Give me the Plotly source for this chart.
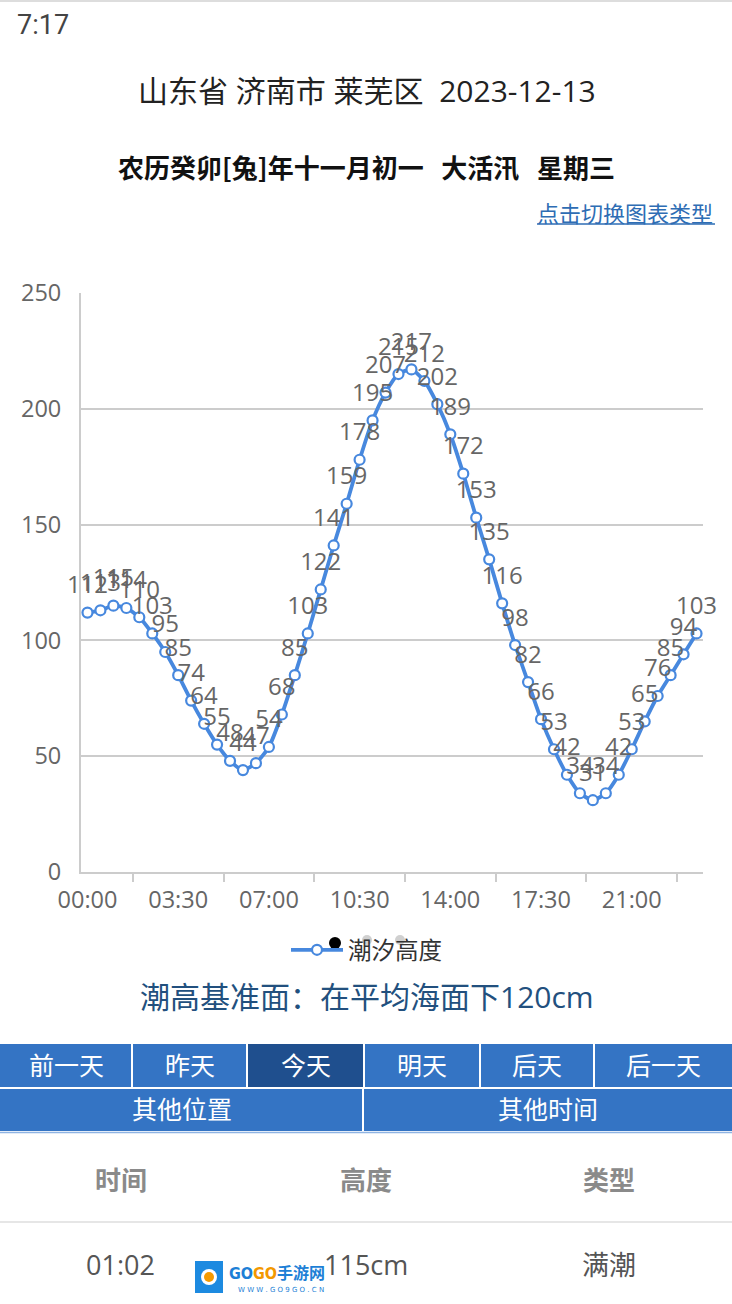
import plotly.graph_objects as go

W, H = 732, 1304

# ---------------- data ----------------
times = ["00:00", "00:30", "01:00", "01:30", "02:00", "02:30", "03:00", "03:30",
         "04:00", "04:30", "05:00", "05:30", "06:00", "06:30", "07:00", "07:30",
         "08:00", "08:30", "09:00", "09:30", "10:00", "10:30", "11:00", "11:30",
         "12:00", "12:30", "13:00", "13:30", "14:00", "14:30", "15:00", "15:30",
         "16:00", "16:30", "17:00", "17:30", "18:00", "18:30", "19:00", "19:30",
         "20:00", "20:30", "21:00", "21:30", "22:00", "22:30", "23:00", "23:30"]
heights = [112, 113, 115, 114, 110, 103, 95, 85, 74, 64, 55, 48, 44, 47, 54, 68,
           85, 103, 122, 141, 159, 178, 195, 207, 215, 217, 212, 202, 189, 172, 153, 135,
           116, 98, 82, 66, 53, 42, 34, 31, 34, 42, 53, 65, 76, 85, 94, 103]
tick_labels = ["00:00", "03:30", "07:00", "10:30", "14:00", "17:30", "21:00"]
y_ticks = [0, 50, 100, 150, 200, 250]
series_name = "潮汐高度"

title_text = "山东省 济南市 莱芜区&nbsp;&nbsp;2023-12-13"
subtitle_text = "农历癸卯[兔]年十一月初一&nbsp;&nbsp;&nbsp;大活汛&nbsp;&nbsp;&nbsp;星期三"
link_text = "点击切换图表类型"
datum_text = "潮高基准面：在平均海面下120cm"
buttons_row1 = ["前一天", "昨天", "今天", "明天", "后天", "后一天"]
buttons_row2 = ["其他位置", "其他时间"]
table_header = ["时间", "高度", "类型"]
table_row = ["01:02", "115cm", "满潮"]


def px(x):
    return x / W


def py(y):
    return 1 - y / H


FONT = "Open Sans, Noto Sans CJK SC, sans-serif"
CJK = "Noto Sans CJK SC, Open Sans, sans-serif"
BLUE = "#4788de"

x_idx = list(range(len(times)))
tick_idx = [times.index(t) for t in tick_labels]

fig = go.Figure()
fig.add_trace(go.Scatter(
    x=x_idx, y=heights, name=series_name,
    mode="lines+markers",
    line=dict(color=BLUE, width=3.8, shape="spline", smoothing=0.6),
    marker=dict(symbol="circle", size=10, color="white",
                line=dict(color=BLUE, width=2.2)),
    cliponaxis=False,
    hoverinfo="skip",
))
# value labels (placed above each point; invisible marker sets the gap)
fig.add_trace(go.Scatter(
    x=x_idx, y=heights, name=series_name, showlegend=False,
    mode="markers+text",
    text=[str(v) for v in heights],
    textposition="top center",
    textfont=dict(family=FONT, size=24, color="#666666"),
    marker=dict(size=20, color="rgba(0,0,0,0)"),
    cliponaxis=False,
    hoverinfo="skip",
))

shapes = []
annotations = []


def note(text, x, y, size, color, family=FONT, xanchor="center", weight="normal"):
    annotations.append(dict(text=text, x=px(x), y=py(y), xref="paper", yref="paper",
                            xanchor=xanchor, yanchor="middle", showarrow=False,
                            font=dict(family=family, size=size, color=color, weight=weight)))


def circle(cx, cy, r, color):
    return dict(type="circle", xref="paper", yref="paper",
                x0=px(cx - r), x1=px(cx + r), y0=py(cy + r), y1=py(cy - r),
                fillcolor=color, line=dict(width=0))


def rect(x0, x1, y0, y1, color):
    return dict(type="rect", xref="paper", yref="paper",
                x0=px(x0), x1=px(x1), y0=py(y1), y1=py(y0),
                fillcolor=color, line=dict(width=0))


def hline(x0, x1, y, color, width):
    return dict(type="line", xref="paper", yref="paper", x0=px(x0), x1=px(x1),
                y0=py(y), y1=py(y), line=dict(color=color, width=width))


# top border line
shapes.append(hline(0, W, 1, "#dddddd", 2))

# status bar
note("7:17", 15, 25, 27, "#444444", family="Roboto, sans-serif", xanchor="left")
# titles
note(title_text, 367, 91, 30, "#222222")
note(subtitle_text, 366, 166, 26, "#111111", family=CJK, weight="bold")
# link
note(link_text, 715, 212, 22, "#2e6db4", family=CJK, xanchor="right")
shapes.append(hline(537, 715, 224, "#2e6db4", 1.5))

# legend artifacts (touch dots)
shapes.append(circle(335, 943, 6, "#000000"))
shapes.append(circle(367, 940, 5, "rgba(150,150,150,0.45)"))
shapes.append(circle(400, 940, 5, "rgba(150,150,150,0.45)"))

# datum text
note(datum_text, 367, 996, 30, "#22507e")

# buttons
row1_edges = [0, 132, 247, 364, 480, 594, 732]
for i, lab in enumerate(buttons_row1):
    x0, x1 = row1_edges[i], row1_edges[i + 1]
    fill = "#1f4f8e" if lab == "今天" else "#3474c4"
    shapes.append(rect(x0 + (1 if i else 0), x1 - (1 if i < 5 else 0), 1044, 1087, fill))
    note(lab, (x0 + x1) / 2, 1064, 25, "white", family=CJK)
row2_edges = [0, 363, 732]
for i, lab in enumerate(buttons_row2):
    x0, x1 = row2_edges[i], row2_edges[i + 1]
    shapes.append(rect(x0 + (1 if i else 0), x1 - (1 if i == 0 else 0), 1089, 1131, "#3474c4"))
    note(lab, (x0 + x1) / 2, 1108, 25, "white", family=CJK)
shapes.append(hline(0, W, 1132.5, "#8fb4e3", 1.5))

# table
col_x = [121, 366, 609]
for cx, lab in zip(col_x, table_header):
    note(lab, cx, 1178, 26, "#8a8a8a", family=CJK, weight="bold")
shapes.append(hline(0, W, 1222, "#e6e6e6", 2))
for cx, lab in zip(col_x, table_row):
    note(lab, cx, 1264, 27, "#555555")

# watermark
shapes.append(rect(195, 223, 1261, 1293, "#1d8ae0"))
shapes.append(circle(209, 1277, 8, "white"))
shapes.append(circle(209, 1277, 5, "#f59a00"))
note("<span style='color:#1d7fd6'>GO</span><span style='color:#f39800'>GO</span>"
     "<span style='color:#1d7fd6'>手游网</span>", 227, 1273, 16, "#1d7fd6",
     family="DejaVu Sans Condensed, Liberation Sans Narrow, Noto Sans CJK SC",
     xanchor="left", weight="bold")
note("W W W . G O 9 G O . C N", 281, 1290, 7, "#1d7fd6", family="DejaVu Sans, sans-serif")

fig.update_layout(
    template="none",
    width=W, height=H,
    margin=dict(l=0, r=0, t=0, b=0, pad=0, autoexpand=False),
    paper_bgcolor="white", plot_bgcolor="white",
    showlegend=True,
    legend=dict(orientation="h", x=px(286), xanchor="left", y=py(950), yanchor="middle",
                font=dict(family=CJK, size=23.5, color="#333333"), bgcolor="rgba(0,0,0,0)",
                borderwidth=0, itemsizing="trace", itemwidth=52),
    shapes=shapes, annotations=annotations,
    hovermode=False,
    xaxis=dict(domain=[px(81), px(703)], range=[-0.5, len(times) - 0.5],
               automargin=False,
               tickmode="array", tickvals=tick_idx, ticktext=tick_labels,
               ticks="", showgrid=False, zeroline=False,
               showline=True, linecolor="#cccccc", linewidth=2,
               tickfont=dict(family=FONT, size=23.5, color="#666666"),
               ticklabelstandoff=6,
               minor=dict(tickmode="array", tickvals=[i + 3.5 for i in tick_idx],
                          ticks="outside", ticklen=8, tickwidth=1.5, tickcolor="#cccccc",
                          showgrid=False),
               fixedrange=True),
    yaxis=dict(domain=[py(872), py(293)], range=[0, 250],
               automargin=False,
               tickmode="array", tickvals=y_ticks,
               showgrid=True, gridcolor="#cccccc", gridwidth=1.5,
               zeroline=False, showline=True, linecolor="#cccccc", linewidth=2,
               ticks="", tickfont=dict(family=FONT, size=23.5, color="#666666"),
               ticklabelstandoff=13, fixedrange=True),
)

fig.write_html("out.html", config={"displayModeBar": False})
